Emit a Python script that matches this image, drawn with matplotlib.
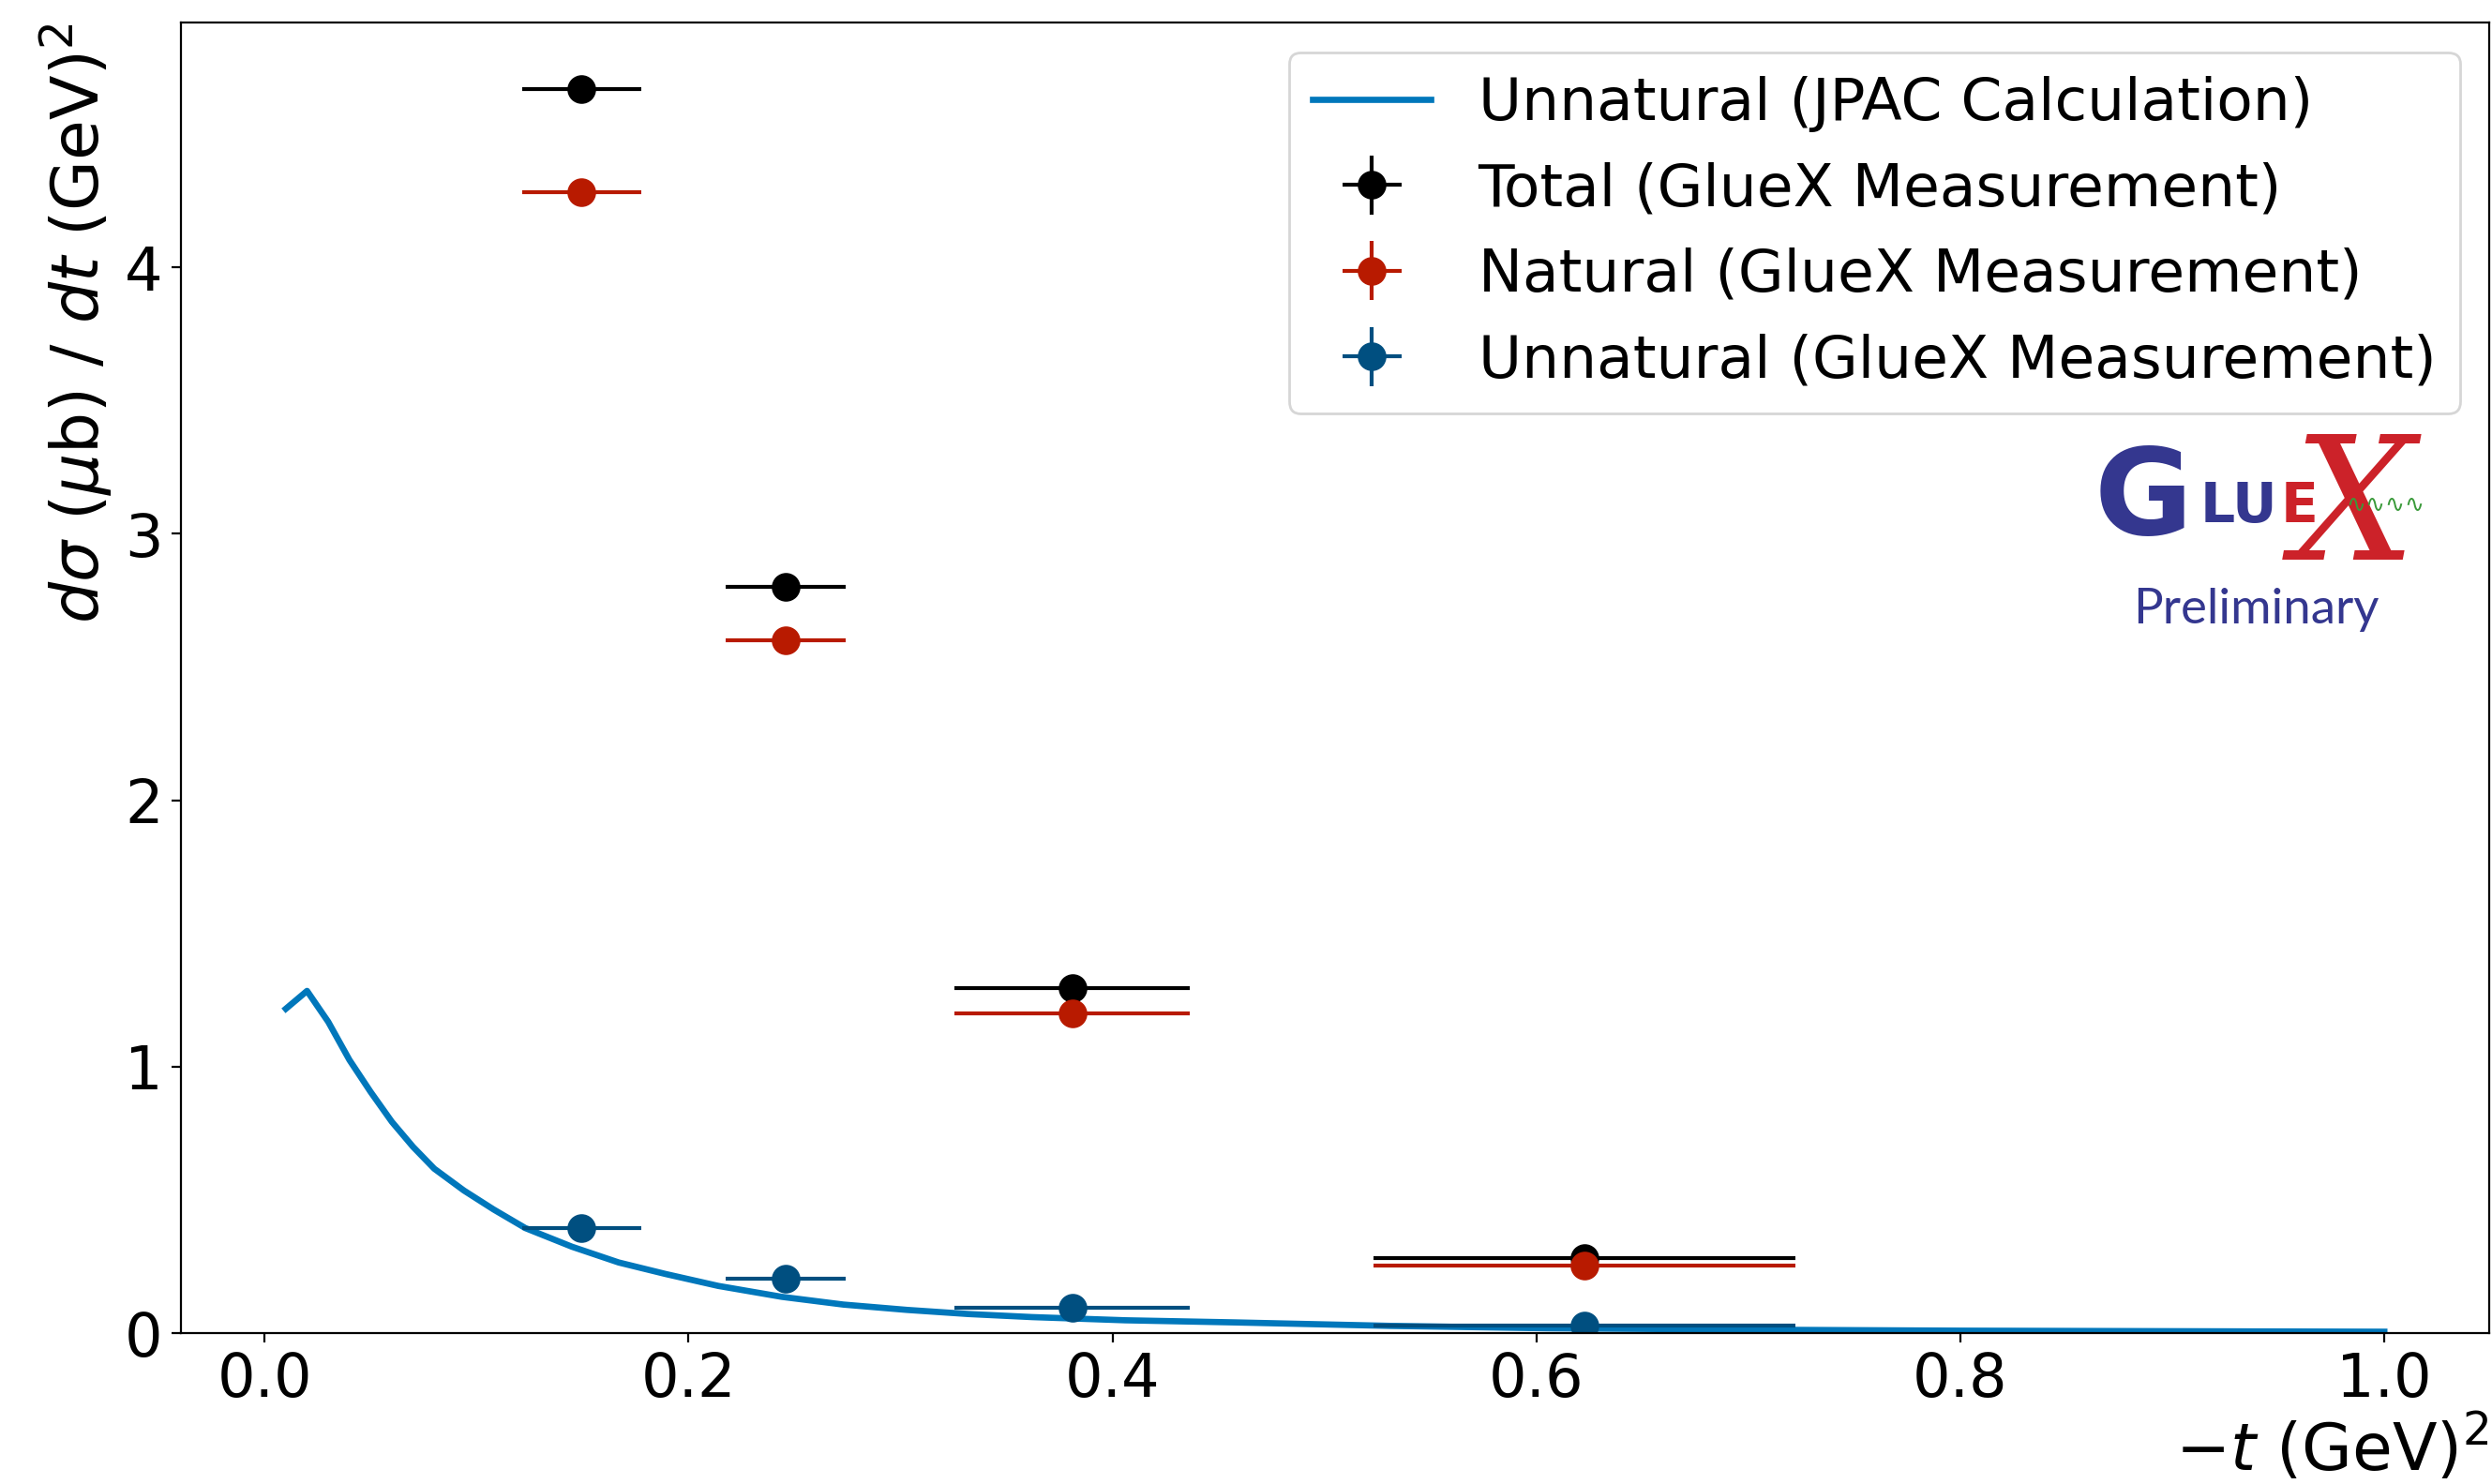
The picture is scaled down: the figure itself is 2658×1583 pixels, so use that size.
import numpy as np
import matplotlib.pyplot as plt

plt.rcParams['font.size'] = 23

# JPAC calculation (unnatural)
t_jpac = [0.01, 0.02, 0.03, 0.04, 0.05, 0.06, 0.07, 0.08, 0.094, 0.108, 0.123, 0.145,
          0.167, 0.189, 0.214, 0.244, 0.273, 0.303, 0.332, 0.362, 0.406, 0.458, 0.531,
          0.605, 0.72, 0.80, 0.90, 1.0]
xs_jpac = [1.217, 1.284, 1.168, 1.025, 0.905, 0.793, 0.699, 0.617, 0.535, 0.464, 0.394,
           0.324, 0.265, 0.222, 0.177, 0.136, 0.107, 0.087, 0.0715, 0.060, 0.048, 0.040,
           0.027, 0.018, 0.012, 0.009, 0.007, 0.005]

# GlueX measurement bins
t_bin = [0.1495, 0.2458, 0.381, 0.6227]
t_err = [0.028, 0.0285, 0.0555, 0.0995]
xs_total = [4.669, 2.802, 1.294, 0.281]
xs_natural = [4.281, 2.600, 1.198, 0.253]
xs_unnatural = [0.394, 0.204, 0.095, 0.027]
err_total = [0.016, 0.012, 0.008, 0.004]
err_natural = [0.015, 0.011, 0.008, 0.004]
err_unnatural = [0.006, 0.004, 0.003, 0.002]

fig = plt.figure(figsize=(13.29, 7.915), dpi=200)
ax = fig.add_axes([0.0726, 0.1017, 0.9263, 0.8831])

ax.plot(t_jpac, xs_jpac, color='#0077bb', lw=2.4, label='Unnatural (JPAC Calculation)')
ax.errorbar(t_bin, xs_total, xerr=t_err, yerr=err_total, fmt='o', color='black',
            ms=10, elinewidth=1.5, label='Total (GlueX Measurement)')
ax.errorbar(t_bin, xs_natural, xerr=t_err, yerr=err_natural, fmt='o', color='#b81a00',
            ms=10, elinewidth=1.5, label='Natural (GlueX Measurement)')
ax.errorbar(t_bin, xs_unnatural, xerr=t_err, yerr=err_unnatural, fmt='o', color='#004f80',
            ms=10, elinewidth=1.5, label='Unnatural (GlueX Measurement)')

ax.set_ylim(0, 4.918)
ax.set_xlabel(r'$-t$ (GeV)$^2$', loc='right', fontsize=25, labelpad=1)
ax.set_ylabel(r'$d\sigma$ ($\mu$b) / $dt$ (GeV)$^2$', loc='top', fontsize=25)
ax.legend(loc='upper right', fontsize=22.7)

# GlueX "Preliminary" logo
blue = '#34378f'
red = '#cc2229'
ax.text(0.8290, 0.6094, 'G', transform=ax.transAxes, color=blue, fontsize=46,
        fontweight='heavy', ha='left', va='baseline')
ax.text(0.9415, 0.6266, 'X', transform=ax.transAxes, color=red, fontsize=66,
        family='DejaVu Serif', style='italic', ha='center', va='center')
ax.text(0.8749, 0.6187, 'LU', transform=ax.transAxes, color=blue, fontsize=21,
        fontweight='bold', ha='left', va='baseline')
ax.text(0.9098, 0.6187, 'E', transform=ax.transAxes, color=red, fontsize=21,
        fontweight='bold', ha='left', va='baseline')
ax.text(0.955, 0.632, '∿∿∿∿', transform=ax.transAxes, color='#3a9a3a', fontsize=9,
        ha='center', va='center')
ax.text(0.899, 0.552, 'Preliminary', transform=ax.transAxes, color=blue, fontsize=19,
        family='Lato', ha='center', va='center')

fig.savefig('out.png', dpi=200)
